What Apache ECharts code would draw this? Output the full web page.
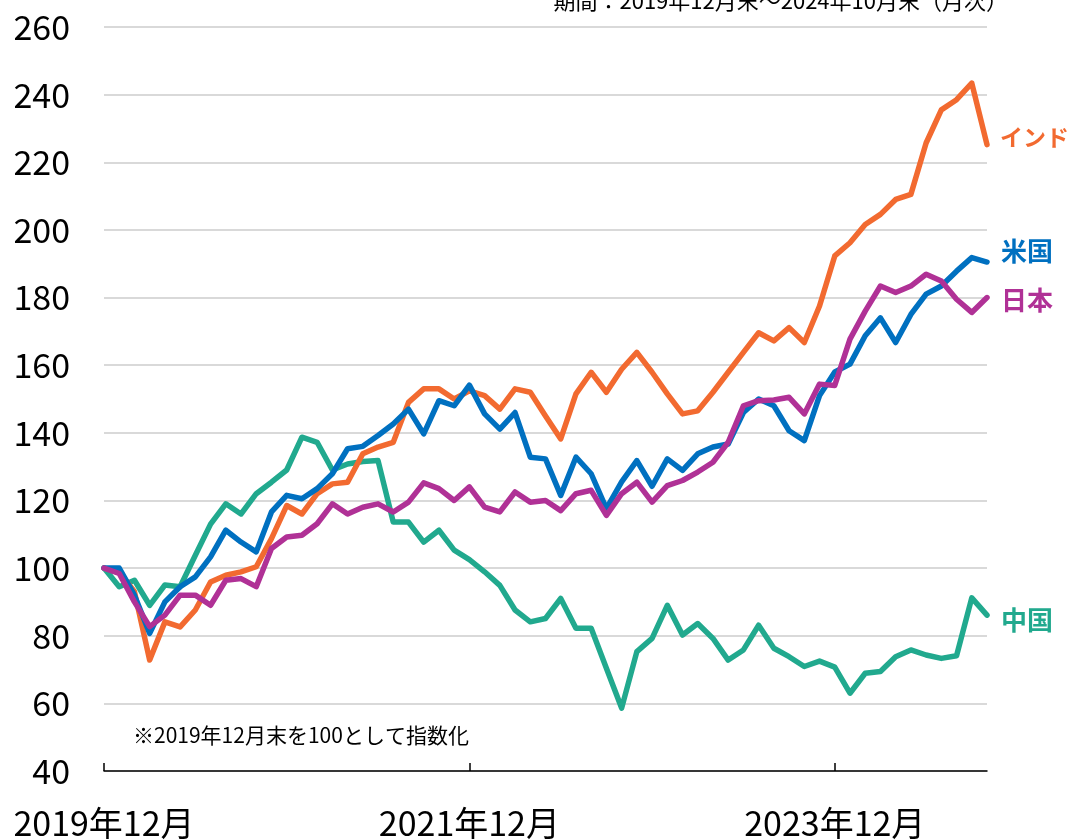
<!DOCTYPE html>
<html>
<head>
<meta charset="utf-8">
<script src="https://cdn.jsdelivr.net/npm/echarts@6/dist/echarts.min.js"></script>
<style>
html,body{margin:0;padding:0;background:#fff;}
#chart{width:1070px;height:840px;}
</style>
</head>
<body>
<div id="chart"></div>
<script>
// Monthly categories 2019-12 .. 2024-10
const startYear = 2019, startMonth = 12, monthCount = 59;
const categories = [];
for (let i = 0; i < monthCount; i++) {
  const m0 = startMonth - 1 + i;
  categories.push((startYear + Math.floor(m0 / 12)) + '年' + (m0 % 12 + 1) + '月');
}
const xTickLabels = ['2019年12月', '2021年12月', '2023年12月'];

const seriesNames = ['中国', 'インド', '米国', '日本'];

const india = [100, 98.9, 93, 72.8, 84.1, 82.6, 87.6, 95.9, 97.9, 98.9,
  100.4, 108.7, 118.5, 116, 122, 124.9, 125.4, 133.8, 135.8, 137.2,
  149, 153, 153, 150, 152.4, 151, 147, 153, 152, 145,
  138.2, 151.5, 157.9, 152, 158.8, 163.8, 157.9, 151.5, 145.6, 146.5,
  152, 157.9, 163.8, 169.6, 167.2, 171.1, 166.7, 177.5, 192.3, 196.2,
  201.6, 204.6, 209, 210.5, 225.7, 235.5, 238.5, 243.4, 225.2];

const usa = [100, 100, 92, 80.7, 90, 94.5, 97.4, 103.3, 111.2, 107.7,
  104.8, 116.6, 121.5, 120.5, 123.5, 127.9, 135.3, 136, 139.2, 142.6,
  147, 139.7, 149.5, 148, 154.1, 145.6, 141.1, 146, 132.8, 132.3,
  121.5, 132.8, 127.9, 117.6, 125.5, 131.8, 124.2, 132.3, 128.9, 133.8,
  135.8, 136.7, 146, 150, 148, 140.6, 137.7, 151, 158, 160.3,
  168.7, 174, 166.7, 175, 181, 183.4, 187.8, 191.8, 190.5];

const japan = [100, 98.4, 90, 82.7, 86.1, 92, 92, 89, 96.4, 96.9,
  94.5, 105.8, 109.2, 109.7, 113.1, 119, 116, 118, 119, 116.6,
  119.5, 125.2, 123.5, 120, 124, 118, 116.6, 122.5, 119.5, 120,
  117, 122, 123, 115.6, 122, 125.4, 119.5, 124.4, 125.9, 128.4,
  131.3, 137.2, 148, 149.5, 149.7, 150.5, 145.6, 154.4, 154, 167.7,
  176, 183.4, 181.5, 183.4, 186.9, 184.9, 179.5, 175.6, 180];

const china = [100, 94.5, 96.4, 89, 95, 94.5, 103.8, 113, 119, 116,
  122, 125.4, 129, 138.7, 137.2, 129, 130.8, 131.5, 131.8, 113.6,
  113.6, 107.7, 111.2, 105.3, 102.5, 98.9, 94.9, 87.6, 84.1, 85.1,
  91, 82.2, 82.2, 70.4, 58.6, 75.3, 79.2, 89, 80.2, 83.6,
  79.2, 72.8, 75.8, 83.1, 76.3, 73.8, 70.9, 72.5, 70.7, 63,
  68.9, 69.4, 73.8, 75.8, 74.3, 73.3, 74.1, 91.2, 86.1];

const yMin = 40, yMax = 260, yInterval = 20;
const periodNote = '期間：2019年12月末～2024年10月末（月次）';
const indexNote = '※2019年12月末を100として指数化';

const colors = { '中国': '#21A98E', 'インド': '#F26A30', '米国': '#0070C0', '日本': '#B03196' };
const labelOffsets = { '中国': [0, 5], 'インド': [-1, -7], '米国': [0, -11], '日本': [0, 3] };
const labelSizes = { '中国': 26, 'インド': 23, '米国': 26, '日本': 26 };
const dataMap = { '中国': china, 'インド': india, '米国': usa, '日本': japan };

const FONT = '"Noto Sans CJK JP", "Noto Sans", sans-serif';
const chart = echarts.init(document.getElementById('chart'), null, { renderer: 'canvas' });

const isTick = (idx) => xTickLabels.indexOf(categories[idx]) >= 0;

chart.setOption({
  animation: false,
  backgroundColor: '#ffffff',
  grid: { left: 104, right: 83, top: 27, bottom: 67, containLabel: false },
  xAxis: {
    type: 'category',
    data: categories,
    boundaryGap: false,
    axisLine: { show: true, lineStyle: { color: '#000', width: 1.5 } },
    axisTick: { show: true, inside: true, length: 8, interval: (idx) => isTick(idx), lineStyle: { color: '#000', width: 1.5 } },
    axisLabel: { show: true, interval: (idx) => isTick(idx), margin: 35, color: '#000', fontSize: 34, fontFamily: FONT },
    splitLine: { show: false }
  },
  yAxis: {
    type: 'value',
    min: yMin, max: yMax, interval: yInterval,
    axisLine: { show: false },
    axisTick: { show: false },
    axisLabel: { color: '#000', fontSize: 34, fontFamily: FONT, margin: 34 },
    splitLine: { show: true, lineStyle: { color: '#d9d9d9', width: 2 } }
  },
  graphic: [
    { type: 'text', right: 62, top: -10, style: { text: periodNote, fill: '#000', font: '22px ' + FONT } },
    { type: 'text', left: 133, top: 725, style: { text: indexNote, fill: '#000', font: '21px ' + FONT } }
  ],
  series: seriesNames.map(name => ({
    name: name,
    type: 'line',
    data: dataMap[name],
    symbol: 'none',
    smooth: false,
    lineStyle: { color: colors[name], width: 5.5, join: 'round', cap: 'round' },
    itemStyle: { color: colors[name] },
    endLabel: {
      show: true,
      formatter: '{a}',
      color: colors[name],
      fontSize: labelSizes[name],
      fontWeight: 'bold',
      fontFamily: FONT,
      distance: 14,
      offset: labelOffsets[name]
    },
    emphasis: { disabled: true }
  }))
});
</script>
</body>
</html>
